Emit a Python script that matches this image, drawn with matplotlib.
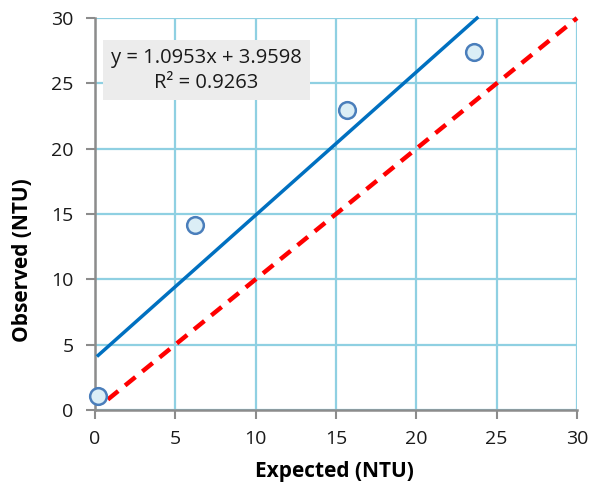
import matplotlib
matplotlib.use("Agg")
import matplotlib.pyplot as plt
import numpy as np

expected = [0.2, 6.2, 15.7, 23.6]
observed = [1.07, 14.15, 22.95, 27.4]
slope = 1.0953
intercept = 3.9598
r2 = 0.9263
ticks = [0, 5, 10, 15, 20, 25, 30]

plt.rcParams['font.family'] = ['Open Sans', 'DejaVu Sans']

fig = plt.figure(figsize=(5.9, 4.88), dpi=100)
ax = fig.add_axes([0.161, 0.16, 0.817, 0.803])

ax.set_xlim(0, 30)
ax.set_ylim(0, 30)
ax.set_xticks(ticks)
ax.set_yticks(ticks)
ax.grid(True, color='#8fd0e2', linewidth=1.6, zorder=0)
ax.set_axisbelow(True)

for s in ['top', 'right']:
    ax.spines[s].set_visible(False)
for s in ['left', 'bottom']:
    ax.spines[s].set_color('#8c8c8c')
    ax.spines[s].set_linewidth(1.8)
ax.tick_params(direction='out', length=6.5, width=1.5, color='#8c8c8c',
               labelsize=14, labelcolor='#1a1a1a')
ax.tick_params(axis='y', pad=9)
ax.tick_params(axis='x', pad=8)

# 1:1 line
xr = np.array([0.8, 30])
ax.plot(xr, xr, color='#ff0000', linewidth=3.2, linestyle=(0, (3, 2)),
        zorder=3, clip_on=False)

# trend line
x_end = (30 - intercept) / slope
xt = np.array([expected[0], x_end])
ax.plot(xt, slope * xt + intercept, color='#0070c0', linewidth=2.5, zorder=3,
        clip_on=False)

ax.plot(expected, observed, 'o', markersize=12, markerfacecolor='#dbeef6',
        markeredgecolor='#4a7ebb', markeredgewidth=1.8, zorder=4, clip_on=False)

ax.text(6.94, 26.0, f"y = {slope:.4f}x + {intercept:.4f}\nR² = {r2:.4f}",
        ha='center', va='center', fontsize=14.5, color='#1a1a1a',
        linespacing=1.3,
        bbox=dict(boxstyle='square,pad=0.38', facecolor='#ececec', edgecolor='none'),
        zorder=5)

ax.set_xlabel('Expected (NTU)', fontsize=15, fontweight='bold')
ax.set_ylabel('Observed (NTU)', fontsize=15, fontweight='bold')
ax.xaxis.set_label_coords(0.496, -0.158)
ax.yaxis.set_label_coords(-0.151, 0.383)
ax.xaxis.label.set_va('center')
ax.yaxis.label.set_va('center')

fig.savefig('out.png', dpi=100)
